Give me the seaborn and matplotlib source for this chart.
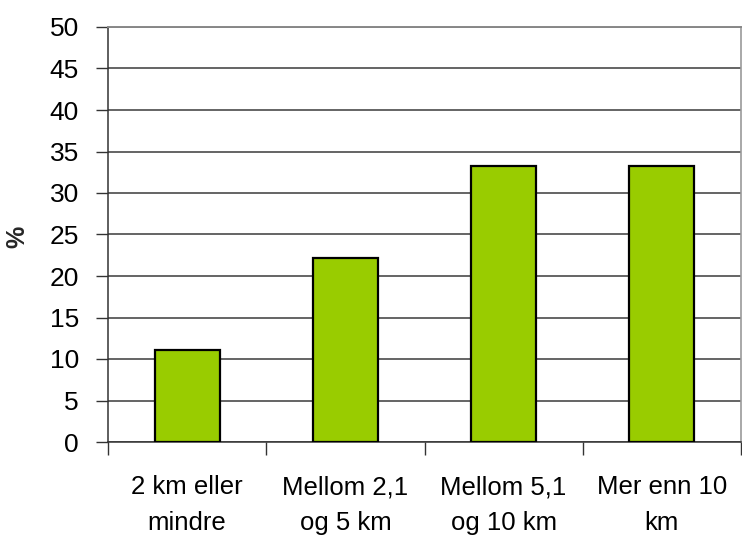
import matplotlib
matplotlib.use("Agg")
import matplotlib.pyplot as plt
import seaborn as sns
import pandas as pd
import numpy as np

categories = ["2 km eller\nmindre", "Mellom 2,1\nog 5 km", "Mellom 5,1\nog 10 km", "Mer enn 10\nkm"]
values = [11.1, 22.2, 33.3, 33.3]
y_ticks = list(range(0, 55, 5))

sns.set_theme(style="white")
plt.rcParams["font.family"] = ["Liberation Sans", "DejaVu Sans"]

df = pd.DataFrame({"kategori": categories, "prosent": values})

fig = plt.figure(figsize=(7.42, 5.40), dpi=100)
ax = fig.add_axes([108 / 742, 1 - 442 / 540, 633 / 742, 415 / 540])

sns.barplot(data=df, x="kategori", y="prosent", color="#99CC00", saturation=1,
            edgecolor="black", linewidth=1.6, width=0.41, ax=ax, zorder=3)

ax.set_ylim(0, 50)
ax.set_xlim(-0.5, len(categories) - 0.5)
ax.set_yticks(y_ticks)
ax.set_yticklabels([str(t) for t in y_ticks], fontsize=19)
ax.yaxis.grid(True, color="#3a3a3a", linewidth=1.1, zorder=0)
ax.set_axisbelow(True)

# category labels centred, tick marks at category boundaries
ax.set_xticks(range(len(categories)))
ax.set_xticklabels(categories, fontsize=18.5, linespacing=1.62)
ax.set_xticks(np.arange(-0.5, len(categories), 1.0), minor=True)
ax.tick_params(axis="x", which="major", length=0, pad=24)
ax.tick_params(axis="x", which="minor", length=9, width=1, color="#333333", direction="out", bottom=True)
ax.tick_params(axis="y", length=9, width=1, color="#333333", direction="out", left=True, pad=12)
for lbl in ax.get_xticklabels():
    lbl.set_color("black")
for lbl in ax.get_yticklabels():
    lbl.set_color("black")

ax.set_xlabel("")
ax.set_ylabel("%", fontsize=18, fontweight="bold")
ax.yaxis.set_label_coords(-0.124, 0.494)

for side in ["left", "bottom"]:
    ax.spines[side].set_color("#333333")
    ax.spines[side].set_linewidth(1.1)
ax.spines["top"].set_color("#888888")
ax.spines["top"].set_linewidth(1.4)
ax.spines["right"].set_color("#999999")
ax.spines["right"].set_linewidth(1.2)

fig.savefig("out.png", dpi=100, facecolor="white")
